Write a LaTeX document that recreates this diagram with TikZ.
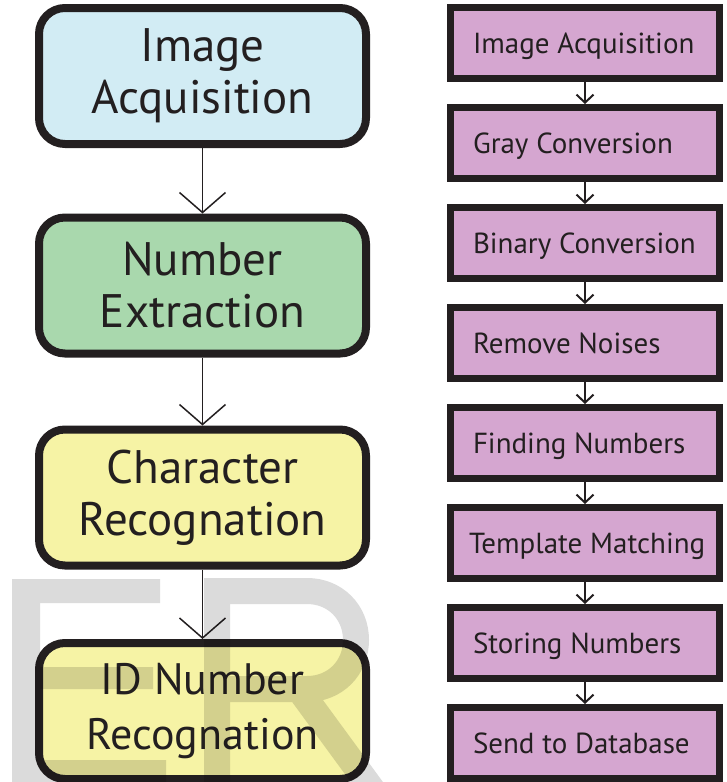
\documentclass[tikz,border=0pt]{standalone}
\usepackage{fontspec}
\setmainfont{PT Sans}
\usetikzlibrary{arrows.meta}
\definecolor{ink}{HTML}{231F20}
\definecolor{blueF}{RGB}{210,236,244}
\definecolor{greenF}{RGB}{169,216,173}
\definecolor{yellowF}{RGB}{246,243,165}
\definecolor{purpleF}{RGB}{213,166,208}
\newcommand{\rtext}[1]{\makebox[224pt][l]{#1}}
\tikzset{
  lbox/.style={draw=ink, line width=8pt, rounded corners=26pt, minimum width=327pt,
    minimum height=136pt, inner sep=0pt, align=center, text=ink,
    font=\fontsize{47}{52}\selectfont},
  rbox/.style={draw=ink, line width=7pt, fill=purpleF, inner xsep=22.5pt, inner ysep=0pt,
    minimum width=269pt, minimum height=71pt, text height=20pt, text depth=0pt,
    text=ink, font=\fontsize{29}{34}\selectfont},
  larrow/.style={draw=ink, line width=1.5pt, -{Straight Barb[length=20pt,width=46pt]}},
  rarrow/.style={draw=ink, line width=2pt, -{Straight Barb[length=8pt,width=17pt]}},
  wmark/.style={black, opacity=0.14}
}
\begin{document}
\begin{tikzpicture}[x=1pt,y=-1pt]
\useasboundingbox (0,0) rectangle (727,782);
% left column
\node[lbox, fill=blueF] (L1) at (202.5,76) {Image\\Acquisition};
\node[lbox, fill=greenF] (L2) at (202.5,285.5) {Number\\Extraction};
\node[lbox, fill=yellowF] (L3) at (202.5,497.5) {Character\\Recognation};
\node[lbox, fill=yellowF, font=\fontsize{44}{55}\selectfont] (L4) at (202.5,711) {ID Number\\Recognation};
\draw[larrow] (L1.south) -- (L2.north);
\draw[larrow] (L2.south) -- (L3.north);
\draw[larrow] (L3.south) -- (L4.north);
% right column
\node[rbox] (R1) at (585,43) {\rtext{Image Acquisition}};
\node[rbox] (R2) at (585,143) {\rtext{Gray Conversion}};
\node[rbox] (R3) at (585,243) {\rtext{Binary Conversion}};
\node[rbox] (R4) at (585,343) {\rtext{Remove Noises}};
\node[rbox] (R5) at (585,443) {\rtext{Finding Numbers}};
\node[rbox] (R6) at (585,543) {\rtext{\hspace*{-4pt}Template Matching}};
\node[rbox] (R7) at (585,643) {\rtext{Storing Numbers}};
\node[rbox] (R8) at (585,743) {\rtext{Send to Database}};
\foreach \a/\b in {R1/R2,R2/R3,R3/R4,R4/R5,R5/R6,R6/R7,R7/R8}
  \draw[rarrow] (\a.south) -- (\b.north);
% watermark
\begin{scope}
\clip (0,0) rectangle (727,782);
\fill[wmark] (12,579) rectangle (160,603) (12,579) rectangle (40,790)
  (40,667) rectangle (153,689) (12,760) rectangle (166,790);
\draw[wmark, line width=26pt, line join=miter]
  (217,800) -- (217,591) -- (307,591) .. controls (335,591) and (356,612) .. (356,640)
  .. controls (356,668) and (335,689) .. (307,689) -- (217,689)
  (298,688) -- (380,800);
\end{scope}
\end{tikzpicture}
\end{document}
